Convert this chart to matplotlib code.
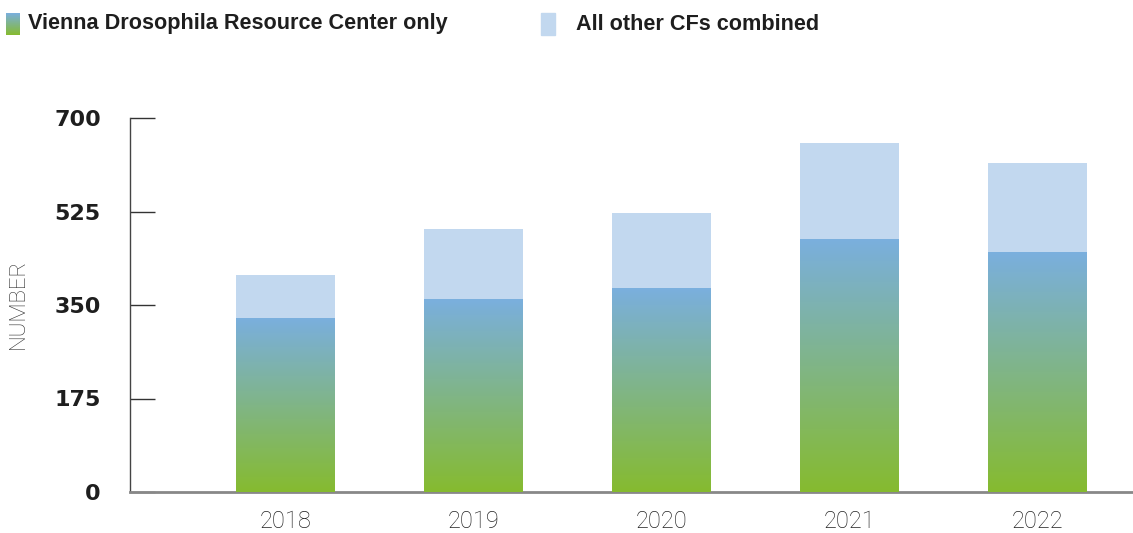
import matplotlib
matplotlib.use("Agg")
import matplotlib.pyplot as plt
import numpy as np
from matplotlib.colors import LinearSegmentedColormap
from matplotlib.patches import Rectangle

years = ["2018", "2019", "2020", "2021", "2022"]
vdrc = [324, 361, 380, 472, 449]
other_cfs = [82, 131, 142, 181, 167]
yticks = [0, 175, 350, 525, 700]

green = "#86bb2f"
blue = "#7aafde"
light_blue = "#c2d8ef"
grad = LinearSegmentedColormap.from_list("vdrc", [green, blue])

fig = plt.figure(figsize=(11.33, 5.33), dpi=100)
ax = fig.add_axes([130 / 1133, 41 / 533, 1 - 130 / 1133, 374 / 533])

x = np.arange(len(years))
w = 0.527

# stacked light part on top
ax.bar(x, other_cfs, w, bottom=vdrc, color=light_blue, zorder=2)

# gradient bars, green at the base fading to blue at the top of each bar
g = np.linspace(0, 1, 256).reshape(-1, 1)
for xi, h in zip(x, vdrc):
    ax.imshow(g, cmap=grad, origin="lower", aspect="auto",
              extent=[xi - w / 2, xi + w / 2, 0, h], zorder=3)

ax.set_xlim(-0.83, 4.51)
ax.set_ylim(0, 700)

ax.set_yticks(yticks)
ax.set_yticklabels([str(v) for v in yticks], fontsize=16, fontweight="bold",
                   color="#1e1e1e")
ax.tick_params(axis="y", direction="in", length=18, width=1, color="#333333",
               pad=21)
ax.set_xticks(x)
ax.set_xticklabels(years, family="Roboto", fontweight="light", fontsize=17,
                   color="#222222")
ax.tick_params(axis="x", length=0, pad=13)

for s in ["top", "right"]:
    ax.spines[s].set_visible(False)
ax.spines["left"].set_color("#444444")
ax.spines["left"].set_linewidth(1)
ax.spines["bottom"].set_color("#888888")
ax.spines["bottom"].set_linewidth(2)

fig.text(18 / 1133, 1 - 304 / 533, "NUMBER", rotation=90, ha="center",
         va="center", family="Roboto", fontweight="light", fontsize=16,
         color="#333333")

# legend
lax = fig.add_axes([6 / 1133, 1 - 35 / 533, 13 / 1133, 22 / 533])
lax.imshow(g, cmap=grad, origin="lower", aspect="auto", extent=[0, 1, 0, 1])
lax.axis("off")
fig.patches.append(Rectangle((541 / 1133, 1 - 35 / 533), 14 / 1133, 22 / 533,
                             transform=fig.transFigure, color=light_blue))
fig.text(28 / 1133, 1 - 24 / 533, "Vienna Drosophila Resource Center only",
         family="Liberation Sans", fontsize=15.6, fontweight="bold",
         color="#1e1e1e", va="center")
fig.text(576 / 1133, 1 - 24 / 533, "All other CFs combined",
         family="Liberation Sans", fontsize=15.6, fontweight="bold",
         color="#1e1e1e", va="center")

fig.savefig("out.png", dpi=100)
